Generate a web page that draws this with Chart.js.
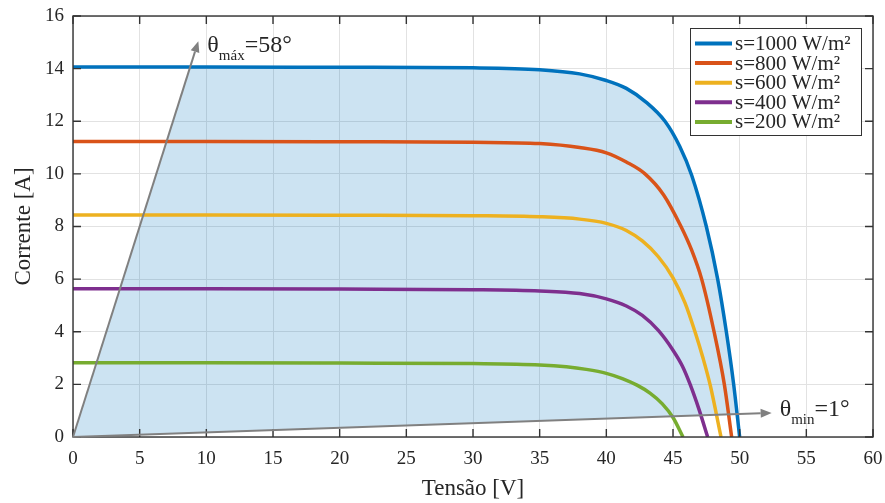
<!DOCTYPE html>
<html>
<head>
<meta charset="utf-8">
<script src="https://cdn.jsdelivr.net/npm/chart.js@4.4.0/dist/chart.umd.min.js"></script>
<style>
  html, body { margin: 0; padding: 0; background: #fff; }
  #wrap { width: 885px; height: 503px; }
</style>
</head>
<body>
<div id="wrap"><canvas id="ivChart" width="885" height="503"></canvas></div>
<script>
// irradiance levels (W/m2) and the I-V curve read for each one
const irradiance = [1000, 800, 600, 400, 200];

const v1000 = [0, 10, 20, 30, 35, 38, 40, 41.5, 43, 44.4, 45.5, 46.4, 47.5, 48.35, 49.0, 49.55, 50];
const i1000 = [14.06, 14.06, 14.05, 14.03, 13.96, 13.8, 13.55, 13.25, 12.72, 12.0, 11.05, 9.95, 8.0, 6.0, 4.0, 2.0, 0];

const v800 = [0, 10, 20, 30, 35, 38, 40, 41.5, 42.9, 44.3, 45.6, 46.4, 47.15, 48.08, 48.85, 49.4];
const i800 = [11.23, 11.23, 11.22, 11.2, 11.15, 11.0, 10.8, 10.45, 10.0, 9.2, 8.0, 7.1, 6.0, 4.0, 2.0, 0];

const v600 = [0, 10, 20, 30, 35, 38, 40, 41.5, 42.7, 43.9, 45.0, 45.9, 46.65, 47.25, 47.8, 48.6];
const i600 = [8.44, 8.44, 8.43, 8.41, 8.37, 8.28, 8.12, 7.85, 7.45, 6.85, 6.05, 5.1, 4.0, 3.0, 1.95, 0];

const v400 = [0, 10, 20, 30, 35, 38, 40, 41.5, 42.7, 43.9, 45.0, 45.7, 46.3, 46.95, 47.6];
const i400 = [5.63, 5.63, 5.62, 5.6, 5.55, 5.45, 5.25, 4.98, 4.62, 4.05, 3.3, 2.7, 1.98, 1.05, 0];

const v200 = [0, 10, 20, 30, 35, 37, 38.5, 40, 41.2, 42.3, 43.3, 44.2, 45, 45.75];
const i200 = [2.82, 2.82, 2.81, 2.79, 2.74, 2.67, 2.57, 2.42, 2.22, 1.97, 1.66, 1.26, 0.74, 0];

const voltages = [v1000, v800, v600, v400, v200];
const currents = [i1000, i800, i600, i400, i200];

// angle limits (degrees) and how far along the V axis each arrow reaches
const arrowAngles = [58, 1];
const arrowNames = ['máx', 'min'];
const arrowEndV = [9.4, 52.4];

const xTicks = [0, 5, 10, 15, 20, 25, 30, 35, 40, 45, 50, 55, 60];
const yTicks = [0, 2, 4, 6, 8, 10, 12, 14, 16];

const lineColors = ['#0072BD', '#D95319', '#EDB120', '#7E2F8E', '#77AC30'];
const serif = "'Liberation Serif', 'Times New Roman', serif";
const textColor = '#262626';
const deg = Math.PI / 180;

const datasets = irradiance.map((s, k) => ({
    label: `s=${s} W/m²`,
    data: voltages[k].map((v, j) => ({ x: v, y: currents[k][j] })),
    borderColor: lineColors[k],
    borderWidth: 3.5,
    pointRadius: 0,
    cubicInterpolationMode: 'monotone',
    fill: false,
}));

// light blue area under the 1000 W/m2 curve, between the two angle lines
const shadePlugin = {
    id: 'shadeRegion',
    beforeDatasetsDraw(chart) {
        const { ctx, chartArea: a, scales: { x, y } } = chart;
        const line = chart.getDatasetMeta(0).dataset;
        line.updateControlPoints(a, 'x');
        const ox = x.getPixelForValue(0);
        const oy = y.getPixelForValue(0);
        const tMax = Math.tan(arrowAngles[0] * deg);
        const tMin = Math.tan(arrowAngles[1] * deg);

        ctx.save();
        ctx.beginPath();
        ctx.rect(a.left, a.top, a.width, a.height);
        ctx.clip();
        ctx.beginPath();
        ctx.moveTo(ox, oy);
        ctx.lineTo(x.getPixelForValue(20), y.getPixelForValue(20 * tMax));
        ctx.lineTo(x.getPixelForValue(200), y.getPixelForValue(20 * tMax));
        ctx.lineTo(x.getPixelForValue(200), y.getPixelForValue(200 * tMin));
        ctx.closePath();
        ctx.clip();

        ctx.beginPath();
        line.path(ctx);
        ctx.lineTo(ox, oy);
        ctx.closePath();
        ctx.fillStyle = 'rgba(0, 114, 189, 0.2)';
        ctx.fill();
        ctx.restore();
    }
};

// box around the plot with inward tick marks on all four sides
const framePlugin = {
    id: 'axesFrame',
    afterDatasetsDraw(chart) {
        const { ctx, chartArea: a, scales: { x, y } } = chart;
        const len = 8;
        ctx.save();
        ctx.strokeStyle = '#333';
        ctx.lineWidth = 1.4;
        ctx.beginPath();
        x.ticks.forEach(t => {
            const px = x.getPixelForValue(t.value);
            ctx.moveTo(px, a.bottom); ctx.lineTo(px, a.bottom - len);
            ctx.moveTo(px, a.top); ctx.lineTo(px, a.top + len);
        });
        y.ticks.forEach(t => {
            const py = y.getPixelForValue(t.value);
            ctx.moveTo(a.left, py); ctx.lineTo(a.left + len, py);
            ctx.moveTo(a.right, py); ctx.lineTo(a.right - len, py);
        });
        ctx.stroke();
        ctx.strokeRect(a.left, a.top, a.width, a.height);
        ctx.restore();
    }
};

// gray arrows from the origin with their theta labels
const arrowPlugin = {
    id: 'angleArrows',
    afterDatasetsDraw(chart) {
        const { ctx, scales: { x, y } } = chart;
        const ox = x.getPixelForValue(0);
        const oy = y.getPixelForValue(0);
        const labelOffsets = [[9, 11], [8, 3]];

        ctx.save();
        arrowAngles.forEach((ang, k) => {
            const ev = arrowEndV[k];
            const ex = x.getPixelForValue(ev);
            const ey = y.getPixelForValue(ev * Math.tan(ang * deg));
            const dir = Math.atan2(ey - oy, ex - ox);
            const head = 11, half = 4.5;
            const bx = ex - head * Math.cos(dir);
            const by = ey - head * Math.sin(dir);

            ctx.strokeStyle = '#808080';
            ctx.fillStyle = '#808080';
            ctx.lineWidth = 2;
            ctx.beginPath();
            ctx.moveTo(ox, oy);
            ctx.lineTo(bx, by);
            ctx.stroke();
            ctx.beginPath();
            ctx.moveTo(ex, ey);
            ctx.lineTo(bx + half * Math.sin(dir), by - half * Math.cos(dir));
            ctx.lineTo(bx - half * Math.sin(dir), by + half * Math.cos(dir));
            ctx.closePath();
            ctx.fill();

            let tx = ex + labelOffsets[k][0];
            const ty = ey + labelOffsets[k][1];
            ctx.fillStyle = textColor;
            ctx.textBaseline = 'alphabetic';
            ctx.textAlign = 'left';
            ctx.font = `24px ${serif}`;
            ctx.fillText('θ', tx, ty);
            tx += ctx.measureText('θ').width;
            ctx.font = `15px ${serif}`;
            ctx.fillText(arrowNames[k], tx, ty + 8);
            tx += ctx.measureText(arrowNames[k]).width;
            ctx.font = `24px ${serif}`;
            ctx.fillText(`=${ang}°`, tx, ty);
        });
        ctx.restore();
    }
};

// boxed legend in the upper right corner of the plot
const legendPlugin = {
    id: 'boxLegend',
    afterDraw(chart) {
        const { ctx, chartArea: a } = chart;
        const bx = a.right - 183, by = a.top + 12, bw = 171, bh = 107;
        ctx.save();
        ctx.fillStyle = '#fff';
        ctx.fillRect(bx, by, bw, bh);
        ctx.strokeStyle = '#333';
        ctx.lineWidth = 1;
        ctx.strokeRect(bx + 0.5, by + 0.5, bw, bh);
        chart.data.datasets.forEach((ds, k) => {
            const ry = by + 15.5 + k * 19.6;
            ctx.strokeStyle = ds.borderColor;
            ctx.lineWidth = 4;
            ctx.beginPath();
            ctx.moveTo(bx + 5, ry);
            ctx.lineTo(bx + 42, ry);
            ctx.stroke();
            ctx.fillStyle = textColor;
            ctx.font = `21px ${serif}`;
            ctx.textBaseline = 'middle';
            ctx.fillText(ds.label, bx + 45, ry + 1);
        });
        ctx.restore();
    }
};

new Chart(document.getElementById('ivChart').getContext('2d'), {
    type: 'line',
    data: { datasets },
    options: {
        responsive: false,
        animation: false,
        devicePixelRatio: 1,
        layout: { padding: { top: 16, right: 12, left: 0, bottom: 0 } },
        plugins: {
            legend: { display: false },
            tooltip: { enabled: false },
        },
        scales: {
            x: {
                type: 'linear',
                min: 0,
                max: 60,
                afterBuildTicks: s => { s.ticks = xTicks.map(v => ({ value: v })); },
                afterFit: s => { s.height = 66; s.paddingLeft = 0; s.paddingRight = 0; },
                grid: { color: '#e2e2e2', drawTicks: false },
                border: { display: false },
                ticks: { padding: 11, color: textColor, font: { family: serif, size: 19 } },
                title: {
                    display: true,
                    text: 'Tensão [V]',
                    color: textColor,
                    font: { family: serif, size: 23 },
                    padding: { top: 0, bottom: 0 },
                },
            },
            y: {
                type: 'linear',
                min: 0,
                max: 16,
                afterBuildTicks: s => { s.ticks = yTicks.map(v => ({ value: v })); },
                afterFit: s => { s.width = 73; s.paddingTop = 0; s.paddingBottom = 0; },
                grid: { color: '#e2e2e2', drawTicks: false },
                border: { display: false },
                ticks: { padding: 9, color: textColor, font: { family: serif, size: 19 } },
                title: {
                    display: true,
                    text: 'Corrente [A]',
                    color: textColor,
                    font: { family: serif, size: 23 },
                    padding: { top: 10, bottom: 0 },
                },
            },
        },
    },
    plugins: [shadePlugin, framePlugin, arrowPlugin, legendPlugin],
});
</script>
</body>
</html>
